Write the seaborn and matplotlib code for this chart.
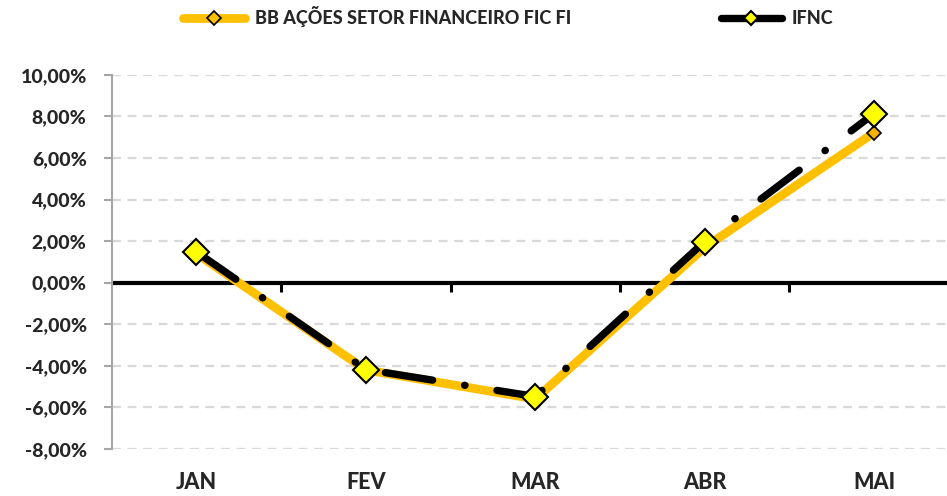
import numpy as np
import pandas as pd
import matplotlib
matplotlib.use("Agg")
import matplotlib.pyplot as plt
from matplotlib.ticker import FuncFormatter
import seaborn as sns

# =========================
# DATA
# =========================

months = ["JAN", "FEV", "MAR", "ABR", "MAI"]
bb_acoes = [0.0140, -0.0420, -0.0560, 0.0170, 0.0722]
ifnc = [0.0148, -0.0418, -0.0548, 0.0198, 0.0814]

BB_NAME = "BB AÇÕES SETOR FINANCEIRO FIC FI"
IFNC_NAME = "IFNC"

df_bb = pd.DataFrame({"mes": months, "ret": bb_acoes, "pos": np.arange(len(months))})
df_ifnc = pd.DataFrame({"mes": months, "ret": ifnc, "pos": np.arange(len(months))})

# =========================
# PLOT
# =========================

sns.set_style("white")
plt.rcParams["font.family"] = ["Lato", "DejaVu Sans"]
WEIGHT = 900

fig = plt.figure(figsize=(9.47, 4.96), dpi=100)
ax = fig.add_axes([0.118, 0.095, 0.882, 0.754])

# gridlines + zero line
for y in np.arange(-0.08, 0.1001, 0.02):
    if abs(y) > 1e-9:
        ax.axhline(y, color="#D9D9D9", lw=1.6, ls=(0, (4, 3)), zorder=0)
ax.axhline(0, color="black", lw=3, zorder=1)
ax.vlines(np.arange(len(months) - 1) + 0.5, -0.0045, 0, color="black", lw=2.2, zorder=1)

sns.lineplot(
    data=df_bb, x="pos", y="ret", ax=ax, sort=False,
    color="#FFC000", lw=6.3, marker="D", markersize=7,
    markerfacecolor="#F5B000", markeredgecolor="black", markeredgewidth=1.2,
    label=BB_NAME, zorder=2,
)
sns.lineplot(
    data=df_ifnc, x="pos", y="ret", ax=ax, sort=False,
    color="black", lw=5.3, marker="D", markersize=13,
    markerfacecolor="#FFFF00", markeredgecolor="black", markeredgewidth=1.5,
    label=IFNC_NAME, zorder=3,
)
ifnc_line = ax.lines[-1]
ifnc_line.set_linestyle((0, (6.5, 4.4, 0.05, 4.4)))
ifnc_line.set_dash_capstyle("round")

ax.set_xlim(-0.5, 4.43)
ax.set_ylim(-0.08, 0.10)
ax.set_yticks(np.arange(-0.08, 0.1001, 0.02))
ax.yaxis.set_major_formatter(FuncFormatter(lambda v, p: f"{v * 100:.2f}%".replace(".", ",")))
ax.set_xticks(df_bb["pos"])
ax.set_xticklabels(months)

ax.tick_params(axis="x", length=0, pad=17, labelsize=15.5)
ax.tick_params(axis="y", length=6, width=1.5, color="#A6A6A6", left=True, pad=12, labelsize=14)
for lab in ax.get_xticklabels() + ax.get_yticklabels():
    lab.set_fontweight(WEIGHT)

for s in ["top", "right", "bottom"]:
    ax.spines[s].set_visible(False)
ax.spines["left"].set_color("#A6A6A6")
ax.spines["left"].set_linewidth(1.5)
ax.set_xlabel("")
ax.set_ylabel("")

# =========================
# LEGEND
# =========================

handles, labels = ax.get_legend_handles_labels()
ax.get_legend().remove()
leg = fig.legend(
    handles, labels, loc="upper center", bbox_to_anchor=(0.537, 1.02),
    ncol=2, frameon=False, columnspacing=8.3, handlelength=3.4, handletextpad=0.55,
    prop={"weight": WEIGHT, "size": 13},
)
leg.legend_handles[0].set_markersize(7)
leg.legend_handles[0].set_markerfacecolor("#FFC000")
leg.legend_handles[1].set_markersize(7)
leg.legend_handles[1].set_linestyle("-")

plt.savefig("out.png", dpi=100)
